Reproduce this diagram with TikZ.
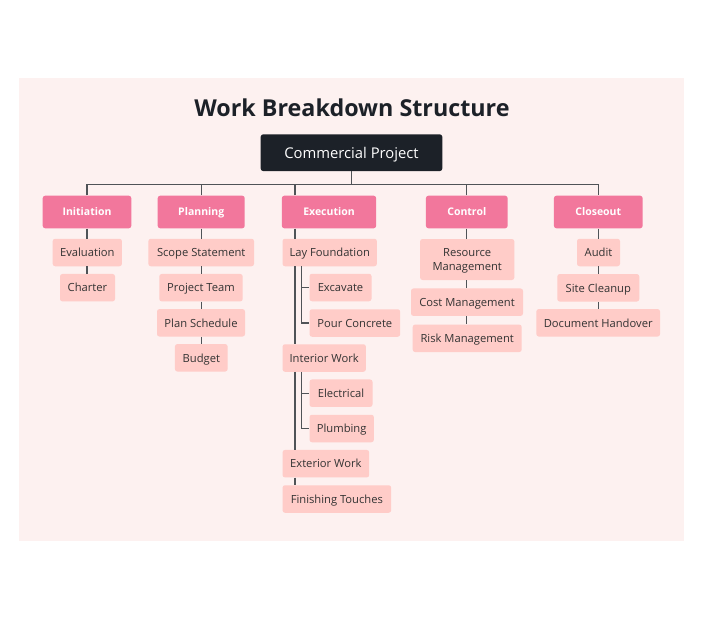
\documentclass[tikz,border=0pt]{standalone}
\usepackage{fontspec}
\setmainfont{Open Sans}
\definecolor{bgpink}{HTML}{FDF1F0}
\definecolor{catpink}{HTML}{F2779C}
\definecolor{kidpink}{HTML}{FFCCC8}
\definecolor{rootdark}{HTML}{1C2128}
\definecolor{linegray}{HTML}{4F5357}
\definecolor{txtdark}{HTML}{333333}
\begin{document}
\begin{tikzpicture}[x=1pt,y=-1pt,
  rootbox/.style={fill=rootdark,rounded corners=2.5pt,inner sep=0pt,minimum height=36.7pt,text depth=0pt,text=white,font=\fontsize{14.8}{17}\selectfont},
  catbox/.style={fill=catpink,rounded corners=2.5pt,inner sep=0pt,minimum height=32.6pt,text depth=0pt,text=white,font=\bfseries\fontsize{10.5}{12}\selectfont},
  kidbox/.style={fill=kidpink,rounded corners=2.5pt,inner sep=0pt,minimum height=27.5pt,text depth=0pt,text=txtdark,font=\fontsize{11.2}{13}\selectfont},
  conn/.style={draw=linegray,line width=1.1pt}]
\useasboundingbox (0,0) rectangle (703,620);
\fill[bgpink] (19,78) rectangle (684,541);
\node[font=\bfseries\fontsize{23.3}{27}\selectfont,text=rootdark,text depth=0pt] (title) at (352,108) {Work Breakdown Structure};
\coordinate (bus) at (0,184.3);
\coordinate (ex) at (295,0);
\coordinate (sx) at (301.7,0);
\node[rootbox,minimum width=181.6pt] (root) at (351.5,152.7) {Commercial Project};
\node[catbox,minimum width=88.6pt] (ini) at (87,212) {Initiation};
\node[catbox,minimum width=87pt] (pla) at (201.2,212) {Planning};
\node[catbox,minimum width=94.3pt] (exe) at (329,212) {Execution};
\node[catbox,minimum width=81.7pt] (con) at (466.8,212) {Control};
\node[catbox,minimum width=88.7pt] (clo) at (598.3,212) {Closeout};
% initiation
\node[kidbox,minimum width=69.3pt] (eva) at (87.3,252.5) {Evaluation};
\node[kidbox,minimum width=55pt] (cha) at (87.5,287.7) {Charter};
% planning
\node[kidbox,minimum width=105.7pt] (sco) at (201.2,252.5) {Scope Statement};
\node[kidbox,minimum width=83.4pt] (pte) at (201,287.7) {Project Team};
\node[kidbox,minimum width=88pt] (psc) at (201,322.8) {Plan Schedule};
\node[kidbox,minimum width=52.7pt] (bud) at (201.3,357.8) {Budget};
% execution
\node[kidbox,minimum width=94.4pt,anchor=west] (lay) at (282.3,252.5) {Lay Foundation};
\node[kidbox,minimum width=62pt,anchor=west] (exc) at (309.3,287.5) {Excavate};
\node[kidbox,minimum width=90.7pt,anchor=west] (pou) at (309.3,323) {Pour Concrete};
\node[kidbox,minimum width=83.4pt,anchor=west] (int) at (282.3,358) {Interior Work};
\node[kidbox,minimum width=63pt,anchor=west] (ele) at (309.3,393.2) {Electrical};
\node[kidbox,minimum width=64.4pt,anchor=west] (plu) at (309.3,428.5) {Plumbing};
\node[kidbox,minimum width=86.7pt,anchor=west] (ext) at (282.3,463.7) {Exterior Work};
\node[kidbox,minimum width=108.7pt,anchor=west] (fin) at (282.3,499) {Finishing Touches};
% control
\node[kidbox,minimum width=94.3pt,minimum height=41pt,align=center,font=\fontsize{11.2}{14}\selectfont] (res) at (467.2,259.5) {Resource\\Management};
\node[kidbox,minimum width=112pt] (cos) at (467,302.2) {Cost Management};
\node[kidbox,minimum width=109pt] (ris) at (467.2,338.3) {Risk Management};
% closeout
\node[kidbox,minimum width=43pt] (aud) at (598.5,252.5) {Audit};
\node[kidbox,minimum width=82pt] (sit) at (598.3,287.8) {Site Cleanup};
\node[kidbox,minimum width=123.7pt] (doc) at (598.2,322.8) {Document Handover};
% connectors
\draw[conn] (root.south) -- (root.south |- bus);
\draw[conn] (ini.north) -- (ini.north |- bus) -- (clo.north |- bus) -- (clo.north);
\draw[conn] (pla.north) -- (pla.north |- bus);
\draw[conn] (ex |- exe.north) -- (ex |- bus);
\draw[conn] (con.north) -- (con.north |- bus);
% initiation chain
\draw[conn] (ini.south) -- (ini.south |- eva.north);
\draw[conn] (eva.south -| ini.south) -- (ini.south |- cha.north);
% planning chain
\draw[conn] (pla.south) -- (pla.south |- sco.north);
\draw[conn] (sco.south -| pla.south) -- (pla.south |- pte.north);
\draw[conn] (pte.south -| pla.south) -- (pla.south |- psc.north);
\draw[conn] (psc.south -| pla.south) -- (pla.south |- bud.north);
% execution spine
\draw[conn] (ex |- exe.south) -- (ex |- lay.north);
\draw[conn] (ex |- lay.south) -- (ex |- int.north);
\draw[conn] (ex |- int.south) -- (ex |- ext.north);
\draw[conn] (ex |- ext.south) -- (ex |- fin.north);
\draw[conn] (sx |- lay.south) |- (pou.west);
\draw[conn] (sx |- exc.west) -- (exc.west);
\draw[conn] (sx |- int.south) |- (plu.west);
\draw[conn] (sx |- ele.west) -- (ele.west);
% control chain
\draw[conn] (con.south) -- (con.south |- res.north);
\draw[conn] (res.south -| con.south) -- (con.south |- cos.north);
\draw[conn] (cos.south -| con.south) -- (con.south |- ris.north);
% closeout chain
\draw[conn] (clo.south) -- (clo.south |- aud.north);
\draw[conn] (aud.south -| clo.south) -- (clo.south |- sit.north);
\draw[conn] (sit.south -| clo.south) -- (clo.south |- doc.north);
\end{tikzpicture}
\end{document}
